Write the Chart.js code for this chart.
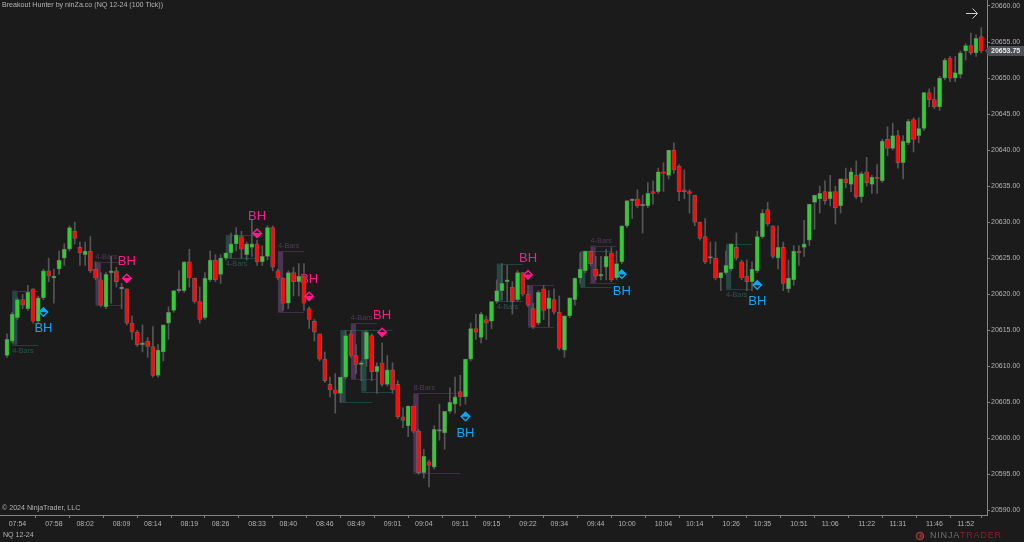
<!DOCTYPE html>
<html><head><meta charset="utf-8">
<style>html,body{margin:0;padding:0;background:#1b1b1b;overflow:hidden}canvas{display:block}</style>
<script src="https://cdn.jsdelivr.net/npm/chart.js@4"></script>
</head><body><canvas id="c" width="1024" height="542"></canvas>
<script>
const opens=[20611.5,20613.5,20616.75,20619.25,20618,20620.75,20616.25,20619.5,20623.25,20622.25,
20623.5,20625,20626.25,20628.75,20626.5,20625.5,20626,20623.5,20622,20618.25,
20623,20623.25,20620.75,20620.75,20616,20614.75,20613,20613.5,20612.75,20608.75,
20612,20616,20617.75,20620.5,20620.5,20624.5,20622.25,20619,20616.75,20622,
20624.75,20622.75,20625,20625.75,20627,20628,20625.5,20626.5,20627,20624.5,
20625.25,20629.25,20623.25,20622.25,20618.75,20623,20621.75,20622.5,20618,20616.25,
20614.5,20611,20607.5,20606.75,20606.25,20608.5,20614.5,20611.5,20610.25,20611,
20614.25,20609.25,20610.5,20607.5,20609.5,20607.5,20603,20601.75,20604.5,20601,
20595.25,20596.75,20596,20601,20600.75,20603.75,20604.75,20606.5,20605.75,20611,
20615.25,20614,20616.5,20616.25,20619,20620.5,20621.75,20621,20619.25,20623,
20620,20618,20616,20620.75,20618,20619.25,20617.5,20612.25,20617,20619.25,
20622.25,20623.25,20626,20623.5,20622.5,20623.75,20625.75,20622.25,20624.5,20629.5,
20633,20633.25,20632.25,20632.25,20634.25,20634.25,20637,20636.5,20640,20637.75,
20634.5,20634.25,20633.75,20630,20628,20625,20625,20622.25,20623,20623.5,
20626.5,20624.5,20622.5,20621.75,20623.25,20628,20631.75,20629.5,20625,20626.5,
20620.75,20622,20626,20626.5,20627.5,20632.75,20633.25,20634.25,20633.25,20634.25,
20632.25,20636,20635.25,20636.5,20633.5,20637,20635.25,20636.25,20635.75,20641.5,
20640.25,20642,20638.25,20641,20644.25,20642,20643,20648,20647,20646,
20650,20652.75,20650,20650.5,20653.75,20654.5,20653.5,20655.75];
const closes=[20613.75,20617.25,20619.25,20618.5,20620.25,20616.25,20619.5,20623.25,20622.5,20622.5,
20624.75,20626.25,20629.25,20627.75,20625.75,20626,20623.25,20622.25,20618.5,20622.75,
20623.25,20621.75,20620.75,20616,20614.75,20613,20613.25,20612.75,20608.75,20612.25,
20615.75,20617.5,20620.5,20620.5,20624.5,20622.25,20619,20616.5,20622.25,20624.75,
20622,20625,20625.75,20627,20628.25,20626.25,20627,20627,20624.5,20625.25,
20629.25,20623.75,20622.25,20618.75,20623,20621.75,20622.5,20618.75,20616.5,20614.75,
20611,20608,20606.75,20606.25,20608.5,20614.25,20611.5,20610.25,20610.5,20614.75,
20609.25,20610,20607.5,20609.5,20606.75,20603,20602.5,20604.5,20601,20595.25,
20597.5,20596.25,20601.25,20601,20603.75,20605,20605.75,20605.75,20611,20615.25,
20614.75,20617.25,20616,20619,20620.5,20621.5,20622,20619,20623,20620,
20618.5,20615.5,20620.25,20617.75,20619.5,20617.5,20612.5,20617,20619.5,20622.25,
20623.5,20626,20624.25,20622.5,20622.75,20625.25,20622,20624.25,20629.5,20633,
20633,20632.25,20632.25,20634,20634,20637,20636.75,20640,20637.25,20634.25,
20634.25,20634,20630,20627.75,20624.5,20625,20622.25,20623,20624,20627,
20625,20622.25,20621.75,20623.5,20628,20631.25,20629.75,20625.25,20626.5,20621.5,
20622.25,20626,20625.75,20627,20632.5,20633.75,20634,20633,20634.25,20632,
20636,20635.5,20637,20633.5,20636.75,20635.5,20636.25,20636,20641.25,20640.25,
20642,20638.25,20641.25,20644,20641.5,20643,20648,20647,20646,20650,
20652.5,20650,20650.75,20653.5,20654.5,20653.5,20655.5,20653.75];
const highs=[20614.5,20617.5,20619.5,20620,20621.25,20620.75,20619.75,20623.5,20625,20623.5,
20626,20627,20629.5,20630,20627.25,20627.25,20628,20624.5,20623,20623,
20625.25,20623.75,20621.5,20620.75,20617,20615,20615.75,20614,20615.5,20613,
20615.75,20618.25,20620.5,20623.25,20624.5,20626.25,20622.25,20621,20623,20626,
20625.5,20625.5,20625.75,20628.5,20629.25,20628.75,20627.25,20630.25,20627.5,20626.75,
20629.5,20629.5,20623.5,20622.25,20623.25,20623.75,20624.25,20624.25,20618.25,20616.5,
20614.5,20612,20608.5,20609,20608.5,20615,20615,20613,20610.75,20615,
20614.5,20610.5,20613.25,20611.5,20610.5,20608,20604.25,20604.5,20604.5,20601.25,
20598.5,20597,20601.75,20604.75,20603.75,20607,20608.5,20608.75,20611,20616,
20617.25,20617.5,20617,20619,20622,20624.25,20624,20621.75,20623.25,20623,
20621.25,20618.75,20620.5,20621.25,20620.5,20620.75,20619.75,20617,20619.5,20622.25,
20625.75,20626,20626,20625.25,20625.25,20626.25,20626.5,20626,20629.5,20633,
20633.25,20634.5,20633.75,20635.5,20635.75,20637.5,20638.25,20640,20641,20638,
20637.25,20634.5,20633.75,20630,20630.5,20627.25,20627.25,20623,20626,20627,
20628.5,20624.75,20624.75,20624.5,20628.75,20631.75,20632.75,20629.5,20629.5,20627.25,
20624.75,20626.75,20626.75,20630.25,20632.5,20633.75,20635,20635.75,20636.5,20635,
20636,20637.5,20637.5,20638.5,20637,20639,20636.5,20638,20641.5,20643.25,
20643.75,20642.75,20642,20644.25,20644.5,20644.5,20648,20648.5,20648.75,20650.25,
20652.75,20653,20653,20653.75,20654.75,20656.25,20656,20657];
const lows=[20611.25,20613.25,20616.5,20618,20617.75,20616,20616,20619.25,20621.75,20618.75,
20622.75,20624,20626,20627,20624,20624,20623,20622,20618.25,20618,
20618.75,20621,20618,20615.75,20613.75,20612.75,20612,20611.25,20608.5,20608.5,
20610.75,20613.75,20617.5,20620.25,20620.25,20621,20618.75,20616,20616.5,20621.75,
20621.75,20621.5,20624.75,20625,20626,20625,20624.75,20625.25,20624,20624,
20624.75,20623.25,20622,20617.75,20618,20619.75,20619.75,20617.75,20615.25,20613.5,
20610.75,20607.75,20605.75,20603.5,20605,20608.25,20611.25,20609,20608,20610,
20608,20606.25,20607.25,20607.25,20606.25,20602.75,20601.5,20600.25,20600.75,20595,
20594.5,20593.25,20595.75,20599.75,20598.5,20603.5,20603.5,20604.5,20604.75,20610.75,
20613.75,20613.25,20613.75,20615.25,20618.75,20619.25,20619,20617.25,20619,20619.75,
20618.25,20615.25,20615.75,20616.5,20615.5,20617.25,20612.25,20611.25,20616.75,20618.5,
20621.5,20623,20624,20622,20622,20622,20621.75,20622,20624.25,20629.25,
20630.5,20632,20628.5,20632,20632.5,20634,20634.25,20636,20636.75,20633,
20633.25,20631.25,20629.5,20627.5,20624.25,20624.25,20622,20620.5,20622.75,20623.25,
20624.75,20622,20620.5,20620.5,20623,20627.75,20629.5,20625,20623.5,20620.5,
20620.25,20621.25,20624,20625.25,20626.75,20629,20631.25,20632.5,20632.25,20629.75,
20631.25,20634.75,20634.25,20633.25,20632.75,20635,20634,20634,20635.5,20639.25,
20640,20637.5,20636,20640.75,20639.75,20641,20642.75,20646,20645.75,20645.5,
20649.75,20649.5,20649.5,20650,20652.5,20653.25,20653,20653.5];
const tickIndexes=[2,9,15,22,28,35,41,48,54,61,67,74,80,87,93,100,106,113,119,126,132,139,145,152,158,165,171,178,184];
const timeLabels=["07:54","07:58","08:02","08:09","08:14","08:19","08:26","08:33","08:40","08:46","08:49","09:01","09:04","09:11","09:15","09:22","09:34","09:44","10:00","10:04","10:14","10:26","10:35","10:51","11:06","11:22","11:31","11:46","11:52"];
const priceTicks=[20590,20595,20600,20605,20610,20615,20620,20625,20630,20635,20640,20645,20650,20655,20660];
const zoneStart=[1,17,42,52,64,66,68,78,94,100,110,112,138];
const zoneLineEnd=[6,22,48,57,70,71,74,87,99,105,116,117,143];
const zoneTop=[20620.5,20624.5,20628.25,20626,20615,20616,20615,20606.25,20624.25,20621.25,20626,20626.75,20627];
const zoneBottom=[20613,20618.5,20625,20617.5,20605,20608.25,20606.5,20595.25,20619,20615.5,20621,20621.5,20620.75];
const zoneBullish=[1,0,1,0,1,0,1,0,1,0,1,0,1];
const zoneLabels=["4-Bars","4-Bars","4-Bars","4-Bars","","4-Bars","","8-Bars","4-Bars","","","4-Bars","4-Bars"];
const buyIndex=[7,88,118,144];
const buyPrice=[20617.5,20603,20622.75,20621.25];
const sellIndex=[23,48,58,72,100];
const sellPrice=[20622.25,20628.5,20619.75,20614.75,20622.75];
const priceTag="20653.75";

const PINK='#ff1a8c',BLUE='#12a5f0',GREEN='#32cd32',RED='#ff0a0a',DOJI='#8a8a8a';
const idx=opens.map((_,i)=>i);
const sans='"Liberation Sans", Arial, sans-serif';

const overlay={
 id:'overlay',
 beforeDatasetsDraw(ch){
  const c=ch.ctx,x=ch.scales.x,y=ch.scales.y;
  c.save();
  zoneStart.forEach((s,i)=>{
   const bull=zoneBullish[i];
   const band=bull?'rgba(46,110,104,0.55)':'rgba(112,70,122,0.6)';
   const line=bull?'#1f4341':'#3f2d46';
   const x0=x.getPixelForValue(s),x1=x.getPixelForValue(s+1),x2=x.getPixelForValue(zoneLineEnd[i]);
   const t=y.getPixelForValue(zoneTop[i]),b=y.getPixelForValue(zoneBottom[i]);
   c.fillStyle=band;c.fillRect(x0,t,x1-x0,b-t);
   c.strokeStyle=line;c.lineWidth=1;c.beginPath();
   c.moveTo(x0,Math.round(t)+.5);c.lineTo(x2,Math.round(t)+.5);
   c.moveTo(x0,Math.round(b)+.5);c.lineTo(x2,Math.round(b)+.5);c.stroke();
   if(zoneLabels[i]){
    c.font='7.3px '+sans;c.fillStyle=bull?'#2c5350':'#503a58';c.textAlign='left';c.textBaseline='middle';
    c.fillText(zoneLabels[i],x0,bull?b+6:t-5);
   }
  });
  c.font='13px '+sans;c.textAlign='center';c.textBaseline='middle';
  c.fillStyle=BLUE;buyIndex.forEach((v,i)=>c.fillText('BH',x.getPixelForValue(v),y.getPixelForValue(buyPrice[i])+16.5));
  c.fillStyle=PINK;sellIndex.forEach((v,i)=>c.fillText('BH',x.getPixelForValue(v),y.getPixelForValue(sellPrice[i])-16.5));
  c.restore();
 },
 afterDatasetsDraw(ch){
  const c=ch.ctx,x=ch.scales.x,y=ch.scales.y;
  c.save();
  const half=(px,py,dir,col)=>{c.fillStyle=col;c.beginPath();c.moveTo(px-5.5,py);c.lineTo(px+5.5,py);c.lineTo(px,py+dir*5.5);c.closePath();c.fill();};
  buyIndex.forEach((v,i)=>half(x.getPixelForValue(v),y.getPixelForValue(buyPrice[i]),-1,BLUE));
  sellIndex.forEach((v,i)=>half(x.getPixelForValue(v),y.getPixelForValue(sellPrice[i]),1,PINK));
  c.restore();
 },
 afterDraw(ch){
  const c=ch.ctx,y=ch.scales.y;
  c.save();
  c.textBaseline='middle';c.textAlign='left';c.font='7.1px '+sans;c.fillStyle='#b4b4b4';
  c.fillText('Breakout Hunter by ninZa.co (NQ 12-24 (100 Tick))',2,5.5);
  c.fillText('\u00a9 2024 NinjaTrader, LLC',2,508.5);
  c.fillText('NQ 12-24',3,535.5);
  // last price tag
  const py=y.getPixelForValue(closes[closes.length-1]);
  c.fillStyle='#4d5156';c.beginPath();c.moveTo(985,py);c.lineTo(989,py-5);c.lineTo(1024,py-5);c.lineTo(1024,py+5);c.lineTo(989,py+5);c.closePath();c.fill();
  c.fillStyle='#ececec';c.font='bold 7px '+sans;c.fillText(priceTag,991,py+.5);
  // arrow
  c.strokeStyle='#cfcfcf';c.lineWidth=1;c.beginPath();
  c.moveTo(966,13.5);c.lineTo(977,13.5);c.moveTo(972.5,8.5);c.lineTo(977.5,13.5);c.lineTo(972.5,18.5);c.stroke();
  // logo
  c.strokeStyle='#9a3a3a';c.lineWidth=1.5;c.beginPath();c.arc(920,536,3.5,0,Math.PI*2);c.stroke();
  c.fillStyle='#a02020';c.beginPath();c.arc(921,536,2,0,Math.PI*2);c.fill();
  c.font='9px '+sans;c.textAlign='left';
  try{c.letterSpacing='0.8px';}catch(e){}
  c.fillStyle='#6f6f6f';c.fillText('NINJA',930,536);
  const w=c.measureText('NINJA').width;
  c.fillStyle='#8a2323';c.fillText('TRADER',930+w,536);
  c.restore();
 }
};

new Chart(document.getElementById('c'),{
 type:'bar',
 data:{datasets:[
  {label:'sell',type:'scatter',data:sellIndex.map((v,i)=>({x:v,y:sellPrice[i]})),pointStyle:'rectRot',pointRadius:3.9,borderColor:PINK,borderWidth:1.4,backgroundColor:'#1b1b1b',order:0},
  {label:'buy',type:'scatter',data:buyIndex.map((v,i)=>({x:v,y:buyPrice[i]})),pointStyle:'rectRot',pointRadius:3.9,borderColor:BLUE,borderWidth:1.4,backgroundColor:'#1b1b1b',order:0},
  {label:'body',data:idx.map(i=>({x:i,y:[opens[i],closes[i]]})),barThickness:4.2,grouped:false,minBarLength:1.6,
   backgroundColor:idx.map(i=>closes[i]>opens[i]?GREEN:closes[i]<opens[i]?RED:DOJI),
   borderColor:'rgba(120,120,120,0.75)',borderWidth:0.7,borderSkipped:false,order:1},
  {label:'wick',data:idx.map(i=>({x:i,y:[lows[i],highs[i]]})),barThickness:1,grouped:false,backgroundColor:'#565656',borderWidth:0,order:2}
 ]},
 plugins:[overlay],
 options:{
  responsive:false,animation:false,devicePixelRatio:1,
  layout:{padding:0,autoPadding:false},
  plugins:{legend:{display:false},tooltip:{enabled:false}},
  scales:{
   x:{type:'linear',offset:false,min:-1.344,max:188.1,
    grid:{display:true,drawOnChartArea:false,drawTicks:true,tickLength:3,color:'#858585'},
    border:{color:'#858585',width:1},
    afterBuildTicks(s){s.ticks=tickIndexes.map(v=>({value:v}));},
    afterFit(s){s.height=27;s.paddingLeft=0;s.paddingRight=0;},
    ticks:{autoSkip:false,maxRotation:0,minRotation:0,color:'#b4b4b4',font:{size:7,family:sans},padding:2,
     callback(v){return timeLabels[tickIndexes.indexOf(v)];}}},
   y:{type:'linear',position:'right',offset:false,min:20589.37,max:20660.83,
    grid:{display:true,drawOnChartArea:false,drawTicks:true,tickLength:3,color:'#858585'},
    border:{color:'#858585',width:1},
    afterBuildTicks(s){s.ticks=priceTicks.map(v=>({value:v}));},
    afterFit(s){s.width=37;s.paddingTop=0;s.paddingBottom=0;},
    ticks:{color:'#b4b4b4',font:{size:7,family:sans},padding:1,
     callback(v){return v.toFixed(2);}}}
  }
 }
});
</script></body></html>
